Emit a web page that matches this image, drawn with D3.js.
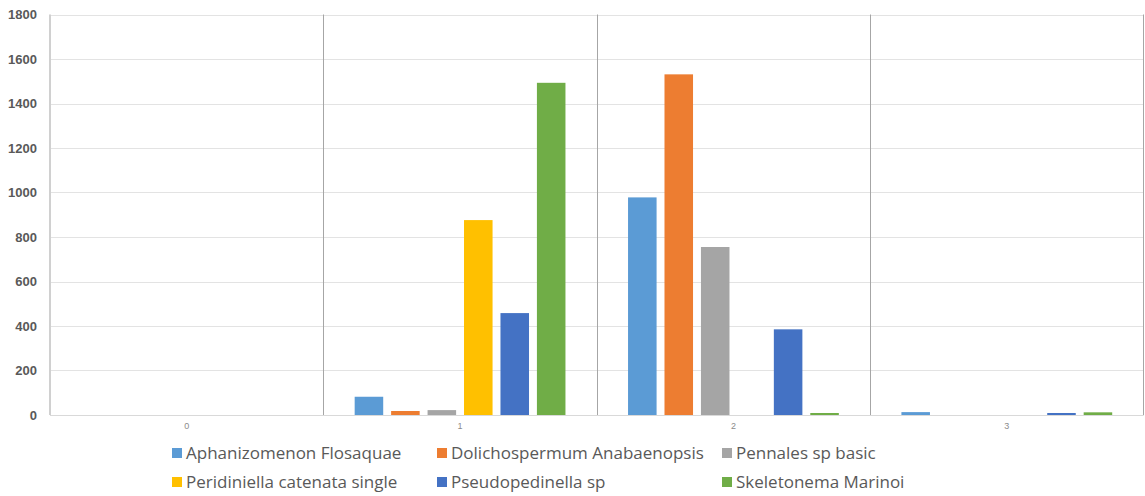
<!DOCTYPE html>
<html>
<head>
<meta charset="utf-8">
<script src="https://cdn.jsdelivr.net/npm/d3@7"></script>
<style>
  html, body { margin: 0; padding: 0; background: #fff; }
  svg { display: block; font-family: "Liberation Sans", Arial, sans-serif; }
</style>
</head>
<body>
<svg id="chart" width="1145" height="496"></svg>
<script>
// Sampling stations along the x axis
const categories = ["0", "1", "2", "3"];

// Species shown in the legend, in drawing order
const seriesNames = [
  "Aphanizomenon Flosaquae",
  "Dolichospermum Anabaenopsis",
  "Pennales sp basic",
  "Peridiniella catenata single",
  "Pseudopedinella sp",
  "Skeletonema Marinoi"
];

// Counts per station for each species
const aphanizomenon   = [0, 82, 978, 13];
const dolichospermum  = [0, 18, 1531, 0];
const pennales        = [0, 22, 755, 0];
const peridiniella    = [0, 876, 0, 0];
const pseudopedinella = [0, 458, 385, 9];
const skeletonema     = [0, 1493, 9, 12];

const yTicks = [0, 200, 400, 600, 800, 1000, 1200, 1400, 1600, 1800];

const seriesValues = [aphanizomenon, dolichospermum, pennales, peridiniella, pseudopedinella, skeletonema];
const colors = ["#5B9BD5", "#ED7D31", "#A5A5A5", "#FFC000", "#4472C4", "#70AD47"];

const svg = d3.select("#chart");
const plot = { left: 50, right: 1143.5, top: 14.5, bottom: 415 };

const x = d3.scaleBand().domain(categories).range([plot.left, plot.right]).padding(0);
const groupWidth = x.bandwidth() * 0.8;
const xInner = d3.scaleBand()
  .domain(d3.range(seriesNames.length))
  .range([(x.bandwidth() - groupWidth) / 2, (x.bandwidth() + groupWidth) / 2])
  .paddingInner(0.217)
  .paddingOuter(0.1085);

const y = d3.scaleLinear().domain([0, 1800]).range([plot.bottom, plot.top]);

// Horizontal gridlines
svg.append("g")
  .selectAll("line")
  .data(yTicks)
  .join("line")
  .attr("x1", plot.left).attr("x2", plot.right)
  .attr("y1", d => Math.round(y(d)) + 0.5).attr("y2", d => Math.round(y(d)) + 0.5)
  .attr("stroke", "#E3E3E3").attr("stroke-width", 1);

// Y axis labels
const yAxis = d3.axisLeft(y).tickValues(yTicks).tickFormat(d3.format("d")).tickSize(0).tickPadding(13);
const yG = svg.append("g").attr("transform", `translate(${plot.left},0)`).call(yAxis);
yG.select(".domain").remove();
yG.selectAll("text")
  .attr("fill", "#595959")
  .style("font-size", "13px")
  .style("font-weight", "bold");

// Bars
const groups = svg.append("g")
  .selectAll("g")
  .data(categories)
  .join("g")
  .attr("transform", d => `translate(${x(d)},0)`);

groups.selectAll("rect")
  .data((c, ci) => seriesValues.map((vals, si) => ({ si, v: vals[ci] })))
  .join("rect")
  .filter(d => d.v > 0)
  .attr("x", d => xInner(d.si))
  .attr("width", xInner.bandwidth())
  .attr("y", d => y(d.v))
  .attr("height", d => y(0) - y(d.v))
  .attr("fill", d => colors[d.si]);

// Category separators and frame
svg.append("line")
  .attr("x1", plot.left).attr("x2", plot.left)
  .attr("y1", plot.top).attr("y2", plot.bottom)
  .attr("stroke", "#D0D0D0").attr("stroke-width", 2);
svg.append("g")
  .selectAll("line")
  .data(categories.slice(1).concat(["end"]))
  .join("line")
  .attr("x1", d => d === "end" ? plot.right : Math.round(x(d)) + 0.5)
  .attr("x2", d => d === "end" ? plot.right : Math.round(x(d)) + 0.5)
  .attr("y1", plot.top).attr("y2", plot.bottom)
  .attr("stroke", "#A6A6A6").attr("stroke-width", 1);

// Baseline
svg.append("line")
  .attr("x1", plot.left).attr("x2", plot.right)
  .attr("y1", plot.bottom + 0.5).attr("y2", plot.bottom + 0.5)
  .attr("stroke", "#D9D9D9").attr("stroke-width", 1);

// X axis labels
const xAxis = d3.axisBottom(x).tickSize(0).tickPadding(8);
const xG = svg.append("g").attr("transform", `translate(0,${plot.bottom})`).call(xAxis);
xG.select(".domain").remove();
xG.selectAll("text")
  .attr("fill", "#8C8C8C")
  .style("font-size", "9px");

// Legend
const legendCols = [172, 437, 722];
const legendRows = [453, 482];
const legend = svg.append("g")
  .selectAll("g")
  .data(seriesNames)
  .join("g")
  .attr("transform", (d, i) => `translate(${legendCols[i % 3]},${legendRows[Math.floor(i / 3)]})`);
legend.append("rect")
  .attr("x", 0).attr("y", -5).attr("width", 10).attr("height", 10)
  .attr("fill", (d, i) => colors[i]);
legend.append("text")
  .attr("x", 14).attr("y", 0)
  .attr("dy", "0.35em")
  .attr("fill", "#595959")
  .style("font-family", "'Open Sans', sans-serif")
  .style("font-size", "17px")
  .text(d => d);
</script>
</body>
</html>
